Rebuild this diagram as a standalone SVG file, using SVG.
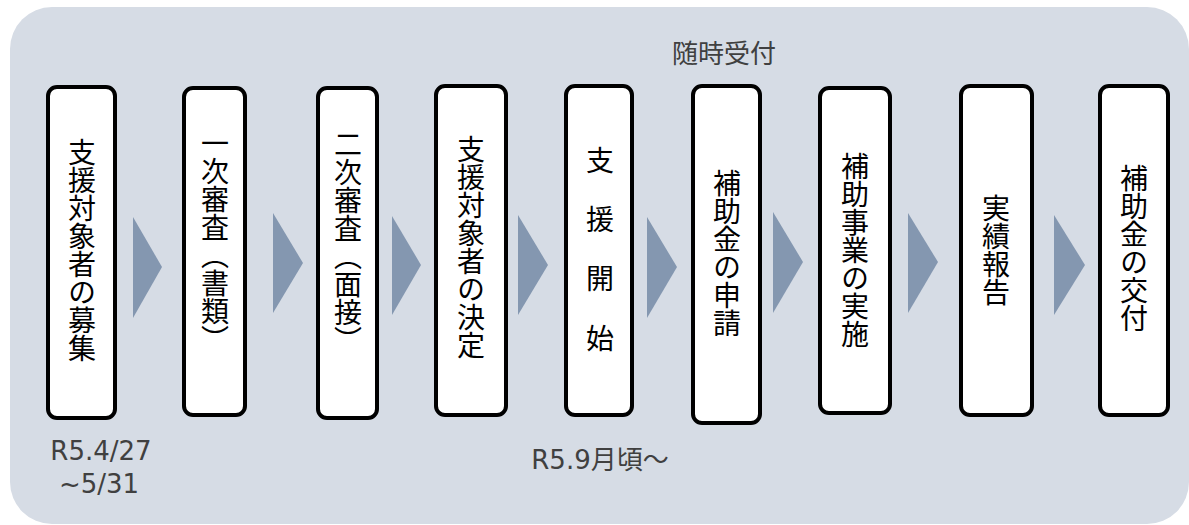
<svg xmlns="http://www.w3.org/2000/svg" width="1189" height="525" viewBox="0 0 1189 525">
<style>
.box{fill:#ffffff;stroke:#000000;stroke-width:4}
.arr{fill:#8497b0}
.vt{font-family:"Noto Sans CJK JP","Noto Sans CJK SC",sans-serif;font-size:28px;fill:#000000;writing-mode:vertical-rl;text-anchor:middle}
.lbl{font-family:"DejaVu Sans","Noto Sans CJK JP",sans-serif;font-size:26px;fill:#404040;text-anchor:middle}
.lblj{font-family:"Noto Sans CJK JP",sans-serif;font-size:26px;fill:#404040;text-anchor:middle}
</style>
<rect x="10" y="7" width="1179" height="517" rx="42" ry="42" fill="#d6dce5"/>
<g id="connectors">
<polygon class="arr" points="133,217 162,267 133,318"/>
<polygon class="arr" points="273,213 303,263 273,313"/>
<polygon class="arr" points="392,216 421,265 392,315"/>
<polygon class="arr" points="518,215 548,265 518,315"/>
<polygon class="arr" points="647,217 677,267 647,318"/>
<polygon class="arr" points="773,212 803,262 773,313"/>
<polygon class="arr" points="908,213 938,262 908,313"/>
<polygon class="arr" points="1054,215 1085,265 1054,315"/>
</g>
<g id="n1"><rect class="box" x="48" y="87" width="67" height="331" rx="9"/><text class="vt" x="82" y="250">支援対象者の募集</text></g>
<g id="n2"><rect class="box" x="184" y="88" width="61" height="327" rx="9"/><text class="vt" x="215" y="241">一次審査（書類）</text></g>
<g id="n3"><rect class="box" x="318" y="88" width="59" height="330" rx="9"/><text class="vt" x="348" y="242">二次審査（面接）</text></g>
<g id="n4"><rect class="box" x="436" y="86" width="70" height="329" rx="9"/><text class="vt" x="471" y="247">支援対象者の決定</text></g>
<g id="n5"><rect class="box" x="566" y="86" width="66" height="329" rx="9"/><text class="vt" x="600" y="160">支</text><text class="vt" x="600" y="219">援</text><text class="vt" x="600" y="278">開</text><text class="vt" x="600" y="338">始</text></g>
<g id="n6"><rect class="box" x="693" y="86" width="67" height="337" rx="9"/><text class="vt" x="727" y="253">補助金の申請</text></g>
<g id="n7"><rect class="box" x="820" y="88" width="70" height="325" rx="9"/><text class="vt" x="855" y="250">補助事業の実施</text></g>
<g id="n8"><rect class="box" x="961" y="86" width="71" height="329" rx="9"/><text class="vt" x="996" y="250">実績報告</text></g>
<g id="n9"><rect class="box" x="1100" y="86" width="68" height="329" rx="9"/><text class="vt" x="1134" y="248">補助金の交付</text></g>
<g id="labels">
<text class="lblj" x="724" y="63">随時受付</text>
<text class="lbl" x="101" y="460">R5.4/27</text>
<text class="lbl" x="99" y="493">~5/31</text>
<text class="lbl" x="600" y="469">R5.9月頃～</text>
</g>
</svg>
